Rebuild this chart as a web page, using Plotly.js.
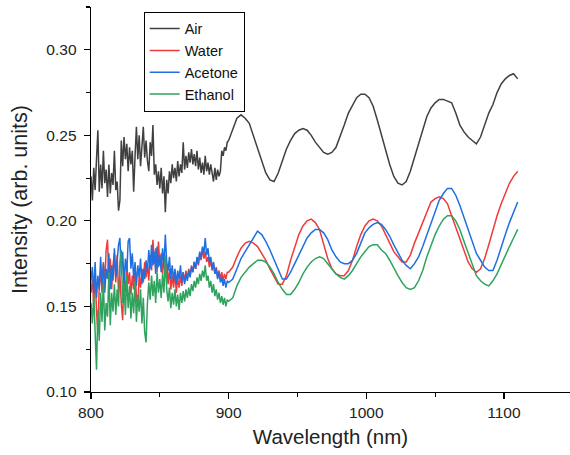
<!DOCTYPE html>
<html>
<head>
<meta charset="utf-8">
<script src="https://cdn.plot.ly/plotly-3.0.1.min.js"></script>
<style>html,body{margin:0;padding:0;background:#fff;}#chart{width:570px;height:455px;}</style>
</head>
<body>
<div id="chart"></div>
<script>
// Wavelength grid (nm): 1 nm steps in the noisy region, 3 nm steps afterwards
const wavelength = [
800,801,802,803,804,805,806,807,808,809,810,811,812,813,814,815,816,817,818,819,
820,821,822,823,824,825,826,827,828,829,830,831,832,833,834,835,836,837,838,839,
840,841,842,843,844,845,846,847,848,849,850,851,852,853,854,855,856,857,858,859,
860,861,862,863,864,865,866,867,868,869,870,871,872,873,874,875,876,877,878,879,
880,881,882,883,884,885,886,887,888,889,890,891,892,893,894,895,896,897,898,899,
900,903,906,909,912,915,918,921,924,927,930,933,936,939,942,945,948,951,954,957,
960,963,966,969,972,975,978,981,984,987,990,993,996,999,1002,1005,1008,1011,1014,1017,
1020,1023,1026,1029,1032,1035,1038,1041,1044,1047,1050,1053,1056,1059,1062,1065,1068,1071,1074,1077,
1080,1083,1086,1089,1092,1095,1098,1101,1104,1107,1110
];

const air = [
0.226,0.212,0.231,0.218,0.236,0.253,0.217,0.233,0.219,0.241,0.222,0.230,0.214,0.233,0.216,0.228,0.221,0.241,0.218,0.223,
0.206,0.212,0.247,0.232,0.249,0.236,0.245,0.229,0.243,0.233,0.241,0.217,0.238,0.255,0.236,0.250,0.232,0.244,0.255,0.237,
0.247,0.235,0.229,0.246,0.238,0.256,0.227,0.233,0.221,0.229,0.219,0.231,0.216,0.226,0.205,0.224,0.216,0.229,0.222,0.233,
0.225,0.231,0.223,0.235,0.226,0.233,0.228,0.246,0.230,0.238,0.231,0.240,0.234,0.242,0.233,0.239,0.232,0.241,0.230,0.237,
0.228,0.234,0.227,0.238,0.229,0.234,0.227,0.233,0.229,0.223,0.231,0.224,0.230,0.226,0.229,0.241,0.238,0.243,0.241,0.246,
0.247,0.254,0.260,0.262,0.260,0.257,0.250,0.243,0.235,0.228,0.224,0.223,0.228,0.235,0.242,0.247,0.251,0.253,0.254,0.253,
0.250,0.246,0.243,0.240,0.239,0.240,0.243,0.249,0.256,0.263,0.268,0.272,0.274,0.274,0.272,0.267,0.259,0.250,0.241,0.233,
0.226,0.222,0.221,0.223,0.229,0.237,0.246,0.254,0.261,0.266,0.269,0.271,0.271,0.270,0.269,0.263,0.256,0.252,0.249,0.247,
0.245,0.249,0.256,0.263,0.268,0.275,0.280,0.283,0.285,0.286,0.283
];

const water = [
0.158,0.166,0.151,0.170,0.147,0.135,0.162,0.171,0.158,0.176,0.163,0.183,0.189,0.165,0.178,0.160,0.174,0.181,0.164,0.180,
0.158,0.168,0.152,0.142,0.167,0.158,0.175,0.163,0.170,0.157,0.168,0.160,0.173,0.155,0.150,0.168,0.161,0.172,0.164,0.176,
0.167,0.174,0.165,0.180,0.171,0.189,0.175,0.184,0.170,0.188,0.174,0.181,0.169,0.178,0.167,0.175,0.163,0.172,0.160,0.168,
0.161,0.170,0.158,0.167,0.161,0.168,0.162,0.170,0.164,0.171,0.166,0.172,0.168,0.174,0.170,0.176,0.172,0.178,0.174,0.181,
0.177,0.184,0.178,0.182,0.176,0.179,0.173,0.177,0.171,0.175,0.169,0.173,0.167,0.171,0.166,0.170,0.165,0.169,0.166,0.170,
0.170,0.173,0.179,0.184,0.187,0.188,0.187,0.185,0.181,0.177,0.172,0.167,0.163,0.163,0.168,0.177,0.185,0.192,0.197,0.200,
0.201,0.199,0.195,0.187,0.178,0.172,0.169,0.168,0.168,0.171,0.177,0.185,0.192,0.197,0.200,0.201,0.200,0.197,0.192,0.187,
0.182,0.179,0.176,0.176,0.180,0.187,0.193,0.199,0.206,0.211,0.213,0.214,0.213,0.210,0.203,0.196,0.189,0.182,0.176,0.172,
0.170,0.172,0.178,0.186,0.195,0.203,0.210,0.216,0.222,0.226,0.229
];

const acetone = [
0.165,0.173,0.158,0.176,0.155,0.168,0.160,0.179,0.163,0.175,0.158,0.172,0.166,0.181,0.160,0.174,0.165,0.184,0.167,0.177,
0.186,0.190,0.168,0.182,0.163,0.178,0.170,0.188,0.190,0.172,0.181,0.166,0.176,0.162,0.174,0.167,0.178,0.163,0.172,0.166,
0.177,0.170,0.183,0.172,0.186,0.174,0.182,0.169,0.185,0.173,0.180,0.170,0.184,0.174,0.192,0.176,0.171,0.179,0.166,0.174,
0.165,0.172,0.163,0.171,0.166,0.174,0.164,0.170,0.163,0.169,0.165,0.171,0.167,0.173,0.170,0.176,0.172,0.179,0.175,0.182,
0.178,0.185,0.181,0.190,0.180,0.184,0.176,0.179,0.172,0.176,0.169,0.172,0.166,0.170,0.164,0.167,0.162,0.166,0.161,0.165,
0.164,0.166,0.172,0.178,0.182,0.186,0.190,0.194,0.192,0.188,0.183,0.177,0.171,0.166,0.166,0.170,0.175,0.180,0.186,0.190,
0.193,0.195,0.195,0.193,0.189,0.183,0.179,0.176,0.175,0.175,0.177,0.181,0.187,0.193,0.196,0.198,0.199,0.198,0.195,0.191,
0.186,0.181,0.177,0.174,0.172,0.175,0.179,0.185,0.192,0.199,0.206,0.212,0.216,0.219,0.219,0.215,0.209,0.202,0.195,0.188,
0.181,0.177,0.173,0.171,0.171,0.177,0.185,0.192,0.199,0.205,0.211
];

const ethanol = [
0.152,0.140,0.157,0.138,0.113,0.148,0.130,0.158,0.141,0.165,0.136,0.152,0.144,0.170,0.139,0.158,0.147,0.163,0.145,0.160,
0.150,0.176,0.183,0.152,0.164,0.145,0.168,0.149,0.162,0.143,0.158,0.146,0.165,0.141,0.157,0.147,0.160,0.140,0.155,0.135,
0.129,0.152,0.164,0.154,0.168,0.156,0.165,0.152,0.170,0.158,0.166,0.155,0.169,0.158,0.180,0.160,0.153,0.161,0.149,0.158,
0.151,0.160,0.150,0.157,0.148,0.158,0.152,0.159,0.153,0.160,0.155,0.161,0.156,0.163,0.159,0.165,0.161,0.167,0.163,0.169,
0.165,0.171,0.167,0.174,0.165,0.168,0.161,0.165,0.158,0.163,0.156,0.160,0.154,0.158,0.152,0.156,0.151,0.155,0.150,0.154,
0.153,0.155,0.162,0.167,0.170,0.173,0.175,0.177,0.177,0.176,0.173,0.169,0.164,0.160,0.157,0.157,0.160,0.164,0.169,0.173,
0.176,0.178,0.179,0.178,0.175,0.172,0.169,0.167,0.166,0.168,0.171,0.175,0.179,0.182,0.185,0.186,0.186,0.183,0.181,0.177,
0.172,0.168,0.164,0.161,0.160,0.161,0.165,0.171,0.179,0.186,0.192,0.197,0.201,0.203,0.203,0.200,0.195,0.188,0.181,0.174,
0.168,0.165,0.163,0.162,0.165,0.169,0.174,0.179,0.185,0.190,0.195
];

const seriesNames = ['Air', 'Water', 'Acetone', 'Ethanol'];
const seriesData = [air, water, acetone, ethanol];
const seriesColors = ['#404040', '#f03a3a', '#1f6fe0', '#2fa25e'];

const traces = seriesData.map((vals, i) => ({
  type: 'scatter',
  mode: 'lines',
  name: seriesNames[i],
  x: wavelength,
  y: vals,
  line: { color: seriesColors[i], width: 1.5 }
}));

const font = 'Liberation Sans, Arial, sans-serif';

const layout = {
  width: 570,
  height: 455,
  margin: { l: 91, r: 0, t: 7, b: 63 },
  paper_bgcolor: '#ffffff',
  plot_bgcolor: '#ffffff',
  font: { family: font, color: '#222222', size: 15 },
  showlegend: true,
  legend: {
    x: 0.11, y: 0.988, xanchor: 'left', yanchor: 'top',
    bordercolor: '#000000', borderwidth: 1,
    bgcolor: '#ffffff',
    font: { family: font, size: 14.5, color: '#111111' },
    tracegroupgap: 0,
    itemwidth: 30
  },
  xaxis: {
    range: [800, 1148],
    tickvals: [800, 900, 1000, 1100],
    ticks: 'outside', ticklen: 6, tickwidth: 1.2, tickcolor: '#000',
    minor: { dtick: 50, tick0: 800, ticks: 'outside', ticklen: 4, tickwidth: 1.2, tickcolor: '#000' },
    showline: true, linecolor: '#000', linewidth: 1.4,
    showgrid: false, zeroline: false,
    tickfont: { family: font, size: 15.5, color: '#222' },
    title: { text: 'Wavelength (nm)', font: { family: font, size: 20.5, color: '#222' }, standoff: 9 }
  },
  yaxis: {
    range: [0.10, 0.325],
    tickvals: [0.10, 0.15, 0.20, 0.25, 0.30],
    tickformat: '.2f',
    ticks: 'outside', ticklen: 6, tickwidth: 1.2, tickcolor: '#000',
    ticklabelstandoff: 4,
    minor: { dtick: 0.025, tick0: 0.1, ticks: 'outside', ticklen: 4, tickwidth: 1.2, tickcolor: '#000' },
    showline: true, linecolor: '#000', linewidth: 1.4,
    showgrid: false, zeroline: false,
    tickfont: { family: font, size: 15.5, color: '#222' },
    title: { text: 'Intensity (arb. units)', font: { family: font, size: 21.5, color: '#222' }, standoff: 13 }
  }
};

Plotly.newPlot('chart', traces, layout, { staticPlot: true, displayModeBar: false });
</script>
</body>
</html>
